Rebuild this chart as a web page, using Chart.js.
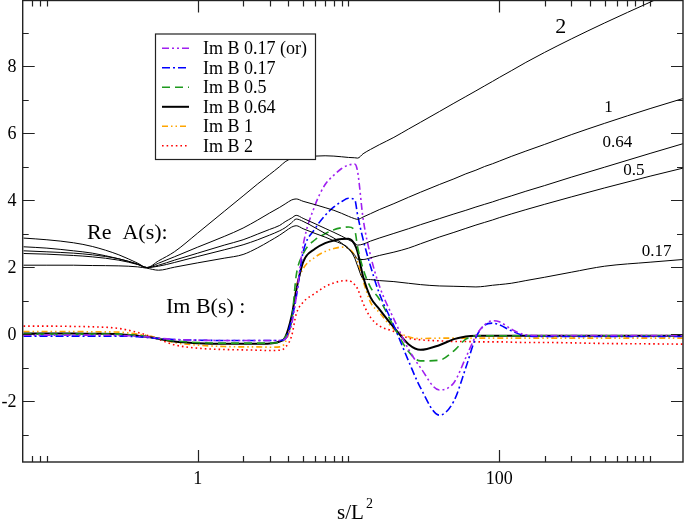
<!DOCTYPE html>
<html>
<head>
<meta charset="utf-8">
<script src="https://cdn.jsdelivr.net/npm/chart.js@4.4.0/dist/chart.umd.min.js"></script>
<style>
  html, body { margin: 0; padding: 0; background: #fff; }
  #wrap { width: 685px; height: 532px; }
</style>
</head>
<body>
<div id="wrap"><canvas id="chart" width="685" height="532"></canvas></div>
<script>
// s/L^2 grid shared by every curve
const sValues = [0.07, 0.1, 0.15, 0.2, 0.3, 0.4, 0.46, 0.55, 0.7, 1, 1.5, 2, 2.5, 3, 3.5, 3.8, 4.2, 4.5, 5, 6,
  7, 8, 9, 10, 11, 11.5, 12.5, 14, 16, 20, 25, 30, 40, 50, 60, 70, 80, 90, 100, 120, 150, 200, 300, 500, 1000, 1650];

// Re A(s), thin black lines
const reA2 = [2.87, 2.82, 2.73, 2.62, 2.37, 2.12, 1.99, 2.19, 2.46, 3.02, 3.67, 4.13, 4.49, 4.77, 5.01, 5.15, 5.25, 5.28, 5.31, 5.32,
  5.33, 5.32, 5.30, 5.28, 5.27, 5.26, 5.39, 5.52, 5.66, 5.88, 6.13, 6.33, 6.65, 6.90, 7.10, 7.27, 7.42, 7.55, 7.67, 7.87, 8.12, 8.42, 8.82, 9.30, 9.92, 10.36];
const reA1 = [2.61, 2.57, 2.49, 2.42, 2.25, 2.09, 1.99, 2.12, 2.31, 2.60, 2.92, 3.17, 3.41, 3.62, 3.79, 3.89, 4.01, 4.04, 3.97, 3.87,
  3.78, 3.70, 3.61, 3.52, 3.45, 3.43, 3.50, 3.60, 3.72, 3.90, 4.09, 4.24, 4.47, 4.64, 4.79, 4.90, 5.01, 5.09, 5.17, 5.31, 5.47, 5.67, 5.96, 6.30, 6.74, 7.04];
const reA064 = [2.49, 2.46, 2.42, 2.37, 2.25, 2.09, 1.99, 2.06, 2.21, 2.42, 2.66, 2.82, 2.99, 3.13, 3.25, 3.36, 3.47, 3.55, 3.46, 3.30,
  3.16, 3.04, 2.93, 2.82, 2.72, 2.66, 2.69, 2.78, 2.87, 3.01, 3.15, 3.27, 3.45, 3.59, 3.70, 3.80, 3.88, 3.95, 4.02, 4.13, 4.27, 4.44, 4.69, 4.99, 5.40, 5.69];
const reA05 = [2.41, 2.39, 2.35, 2.31, 2.21, 2.08, 1.99, 2.03, 2.14, 2.32, 2.52, 2.67, 2.82, 2.96, 3.09, 3.18, 3.33, 3.44, 3.37, 3.18,
  3.01, 2.87, 2.72, 2.54, 2.36, 2.24, 2.23, 2.28, 2.35, 2.45, 2.57, 2.70, 2.90, 3.04, 3.16, 3.26, 3.34, 3.41, 3.48, 3.59, 3.72, 3.88, 4.10, 4.37, 4.72, 4.96];
const reA017 = [2.06, 2.06, 2.06, 2.05, 2.04, 2.01, 1.97, 1.91, 2.00, 2.13, 2.27, 2.38, 2.58, 2.78, 2.96, 3.07, 3.20, 3.24, 3.15, 3.01,
  2.90, 2.79, 2.70, 2.57, 2.27, 2.03, 1.66, 1.63, 1.60, 1.57, 1.52, 1.48, 1.44, 1.43, 1.42, 1.41, 1.43, 1.46, 1.48, 1.52, 1.60, 1.70, 1.85, 2.03, 2.15, 2.23];

// Im B(s)
const imB017or = [-0.03, -0.03, -0.03, -0.03, -0.04, -0.06, -0.08, -0.12, -0.16, -0.18, -0.19, -0.19, -0.19, -0.19, -0.19, -0.15, 0.30, 1.10, 2.65, 3.85,
  4.47, 4.75, 4.95, 5.05, 5.08, 4.85, 3.45, 2.35, 1.45, 0.45, -0.45, -1.00, -1.67, -1.45, -0.70, -0.05, 0.28, 0.40, 0.37, 0.15, -0.02, -0.04, -0.04, -0.04, -0.04, -0.04];
const imB017 = [-0.06, -0.06, -0.06, -0.06, -0.06, -0.08, -0.10, -0.13, -0.16, -0.18, -0.19, -0.19, -0.19, -0.19, -0.19, -0.15, 0.45, 1.10, 2.45, 3.15,
  3.55, 3.80, 3.96, 4.06, 4.02, 3.55, 2.83, 2.03, 1.22, 0.25, -0.80, -1.60, -2.42, -2.00, -1.00, -0.10, 0.27, 0.33, 0.28, 0.10, -0.05, -0.07, -0.07, -0.07, -0.07, -0.07];
const imB05 = [0.00, 0.00, 0.00, 0.00, 0.00, -0.04, -0.07, -0.13, -0.20, -0.25, -0.27, -0.27, -0.27, -0.27, -0.25, -0.10, 0.42, 1.75, 2.40, 2.82,
  3.00, 3.12, 3.18, 3.20, 3.10, 2.60, 1.95, 1.40, 1.05, 0.22, -0.52, -0.80, -0.78, -0.50, -0.15, -0.05, -0.05, -0.05, -0.05, -0.05, -0.05, -0.05, -0.05, -0.05, -0.05, -0.05];
const imB064 = [0.02, 0.02, 0.02, 0.01, 0.00, -0.05, -0.08, -0.14, -0.22, -0.27, -0.29, -0.29, -0.29, -0.28, -0.22, -0.10, 0.55, 1.30, 2.15, 2.55,
  2.72, 2.80, 2.84, 2.85, 2.68, 2.45, 1.72, 1.10, 0.75, 0.20, -0.30, -0.47, -0.33, -0.15, -0.07, -0.05, -0.05, -0.05, -0.05, -0.05, -0.05, -0.05, -0.05, -0.05, -0.05, -0.05];
const imB1 = [0.08, 0.08, 0.08, 0.07, 0.06, 0.00, -0.04, -0.12, -0.25, -0.33, -0.37, -0.38, -0.38, -0.39, -0.38, -0.25, 0.40, 1.40, 1.95, 2.30,
  2.47, 2.56, 2.60, 2.56, 2.35, 2.15, 1.60, 0.95, 0.65, 0.15, -0.08, -0.13, -0.12, -0.12, -0.12, -0.12, -0.12, -0.12, -0.12, -0.12, -0.12, -0.12, -0.12, -0.12, -0.12, -0.12];
const imB2 = [0.24, 0.24, 0.23, 0.22, 0.17, 0.05, -0.03, -0.15, -0.32, -0.42, -0.46, -0.47, -0.48, -0.49, -0.48, -0.40, -0.05, 0.60, 0.95, 1.22,
  1.42, 1.53, 1.59, 1.60, 1.48, 1.35, 0.92, 0.50, 0.25, 0.08, -0.12, -0.17, -0.20, -0.22, -0.22, -0.23, -0.23, -0.23, -0.23, -0.24, -0.25, -0.25, -0.26, -0.28, -0.29, -0.30];

const xMajorTicks = [1, 100];
const xMinorTicks = [0.08, 0.09, 0.1, 2, 3, 4, 5, 6, 7, 8, 9, 10, 200, 300, 400, 500, 600, 700, 800, 900, 1000];
const yMajorTicks = [-2, 0, 2, 4, 6, 8];
const yMinorTicks = [-3, -1, 1, 3, 5, 7, 9];

// labels naming the Re A curves
const curveLabels = [
  { text: '2', size: 22, s: 256, y: 8.99 },
  { text: '1', size: 17, s: 530, y: 6.63 },
  { text: '0.64', size: 17, s: 607, y: 5.58 },
  { text: '0.5', size: 17, s: 782, y: 4.75 },
  { text: '0.17', size: 17, s: 1106, y: 2.33 }
];

const serif = '"Liberation Serif", "DejaVu Serif", serif';

function series(values) {
  return sValues.map((s, i) => ({ x: s, y: values[i] }));
}

function reLine(values) {
  return { data: series(values), borderColor: '#000', borderWidth: 1, inLegend: false };
}

const datasets = [
  reLine(reA2), reLine(reA1), reLine(reA064), reLine(reA05), reLine(reA017),
  { label: 'Im B 0.17 (or)', data: series(imB017or), borderColor: '#a020f0', borderWidth: 1.6, borderDash: [7, 3, 2, 3, 2, 3] },
  { label: 'Im B 0.17', data: series(imB017), borderColor: '#0000ff', borderWidth: 1.6, borderDash: [8, 3, 2, 3] },
  { label: 'Im B 0.5', data: series(imB05), borderColor: '#1e9a1e', borderWidth: 1.6, borderDash: [8, 5] },
  { label: 'Im B 0.64', data: series(imB064), borderColor: '#000', borderWidth: 2 },
  { label: 'Im B 1', data: series(imB1), borderColor: '#ffa500', borderWidth: 1.6, borderDash: [6, 3, 1.5, 3, 1.5, 3] },
  { label: 'Im B 2', data: series(imB2), borderColor: '#ff0000', borderWidth: 1.6, borderDash: [1.6, 3] }
];

const decorations = {
  id: 'decorations',
  afterDatasetsDraw(chart) {
    const { ctx, chartArea: a, scales: { x, y } } = chart;
    ctx.save();

    // frame
    ctx.strokeStyle = '#222';
    ctx.lineWidth = 1.4;
    ctx.strokeRect(a.left, a.top, a.right - a.left, a.bottom - a.top);

    // inward ticks on all four sides
    ctx.lineWidth = 1.2;
    ctx.beginPath();
    const xt = (v, len) => {
      const px = Math.round(x.getPixelForValue(v)) + 0.5;
      ctx.moveTo(px, a.bottom); ctx.lineTo(px, a.bottom - len);
      ctx.moveTo(px, a.top); ctx.lineTo(px, a.top + len);
    };
    const yt = (v, len) => {
      const py = Math.round(y.getPixelForValue(v)) + 0.5;
      ctx.moveTo(a.left, py); ctx.lineTo(a.left + len, py);
      ctx.moveTo(a.right, py); ctx.lineTo(a.right - len, py);
    };
    xMajorTicks.forEach(v => xt(v, 12));
    xMinorTicks.forEach(v => xt(v, 6));
    yMajorTicks.forEach(v => yt(v, 12));
    yMinorTicks.forEach(v => yt(v, 6));
    ctx.stroke();

    // tick labels
    ctx.fillStyle = '#000';
    ctx.font = '18px ' + serif;
    ctx.textAlign = 'center';
    ctx.textBaseline = 'alphabetic';
    xMajorTicks.forEach(v => ctx.fillText(String(v), x.getPixelForValue(v), 484));
    ctx.textAlign = 'right';
    ctx.textBaseline = 'middle';
    yMajorTicks.forEach(v => ctx.fillText(String(v), 16.5, y.getPixelForValue(v) + 1));

    // axis title s/L^2
    ctx.textAlign = 'left';
    ctx.textBaseline = 'alphabetic';
    ctx.font = '21px ' + serif;
    ctx.fillText('s/L', 337, 519);
    ctx.font = '14px ' + serif;
    ctx.fillText('2', 366, 508);

    // annotations
    ctx.font = '22px ' + serif;
    ctx.fillText('Re  A(s):', 87, 239);
    ctx.fillText('Im B(s) :', 166, 313);

    // curve labels
    curveLabels.forEach(l => {
      ctx.font = l.size + 'px ' + serif;
      ctx.textAlign = 'center';
      ctx.fillText(l.text, x.getPixelForValue(l.s), y.getPixelForValue(l.y));
    });

    // legend
    const bx = 155, by = 33.5, bw = 160, bh = 125.5;
    ctx.fillStyle = '#fff';
    ctx.fillRect(bx, by, bw, bh);
    ctx.strokeStyle = '#222';
    ctx.lineWidth = 1.2;
    ctx.strokeRect(bx + 0.5, by + 0.5, bw, bh);
    ctx.font = '18px ' + serif;
    ctx.textAlign = 'left';
    ctx.textBaseline = 'alphabetic';
    chart.data.datasets.filter(d => d.inLegend !== false).forEach((d, i) => {
      const cy = 48.3 + i * 19.5;
      ctx.save();
      ctx.strokeStyle = d.borderColor;
      ctx.lineWidth = d.borderWidth;
      ctx.setLineDash(d.borderDash || []);
      ctx.beginPath();
      ctx.moveTo(162, cy);
      ctx.lineTo(189, cy);
      ctx.stroke();
      ctx.restore();
      ctx.fillStyle = '#000';
      ctx.fillText(d.label, 203, cy + 5.8);
    });

    ctx.restore();
  }
};

new Chart(document.getElementById('chart'), {
  type: 'line',
  data: { datasets },
  options: {
    responsive: false,
    animation: false,
    devicePixelRatio: 1,
    layout: { padding: { left: 22.7, right: 2, top: 0.5, bottom: 70 } },
    elements: {
      point: { radius: 0 },
      line: { cubicInterpolationMode: 'monotone', fill: false }
    },
    plugins: { legend: { display: false }, tooltip: { enabled: false } },
    scales: {
      x: { type: 'logarithmic', min: 0.0691, max: 1653, display: false },
      y: { type: 'linear', min: -3.821, max: 9.97, display: false }
    }
  },
  plugins: [decorations]
});
</script>
</body>
</html>
